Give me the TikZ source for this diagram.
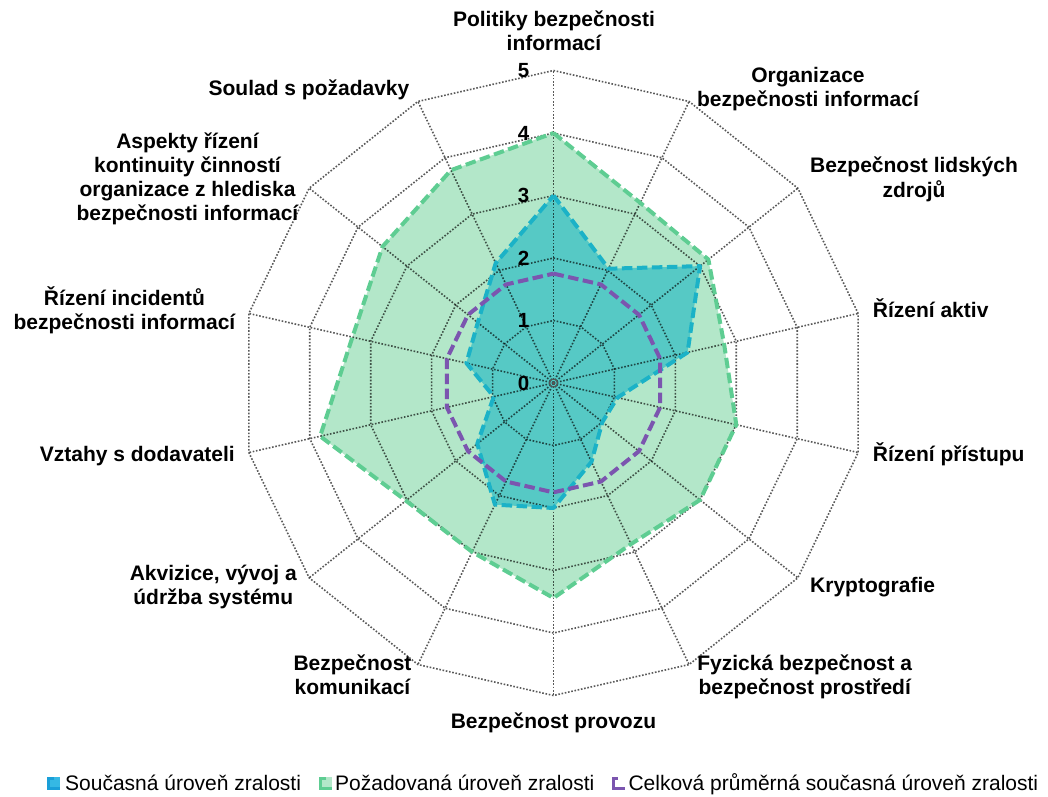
\documentclass[tikz,border=0pt]{standalone}
\usepackage{fontspec}
\setmainfont{Liberation Sans}
\definecolor{greenfill}{HTML}{B3E7C9}
\definecolor{greenline}{HTML}{5ECD92}
\definecolor{tealfill}{HTML}{56C9C5}
\definecolor{tealline}{HTML}{1BB2C7}
\definecolor{purpleline}{HTML}{7B55AF}
\definecolor{legblue}{HTML}{35B8E4}
\definecolor{legblueline}{HTML}{1A9FD8}
\begin{document}
\begin{tikzpicture}[x=1pt,y=1pt,
  gridline/.style={black,opacity=0.65,line width=1.6pt,dash pattern=on 1.6pt off 1.7pt},
  series/.style={line width=4pt,dash pattern=on 10.5pt off 4.5pt,line join=round},
  catlab/.style={font=\bfseries\fontsize{21}{24}\selectfont,align=center,inner sep=0pt},
  numlab/.style={font=\bfseries\fontsize{20.5}{24}\selectfont,inner sep=0pt},
  leglab/.style={font=\fontsize{21}{24}\selectfont,inner sep=0pt,anchor=base west},
  legmark/.style={line width=3pt}]
\useasboundingbox (-553.5,-413) rectangle (494.5,383);
% data points
\foreach \v [count=\i from 0] in {4,3.2,3.17,2.8,3,3,2.86,3.44,3,3.02,3.83,3.3,3.5,3.78}
  \coordinate (g\i) at ({90-\i*360/14}:{\v*62.5});
\foreach \v [count=\i from 0] in {3,2.03,3,2.2,1.05,1,1.4,2,2.16,1.56,0.98,1.43,1.55,2.13}
  \coordinate (t\i) at ({90-\i*360/14}:{\v*62.5});
\foreach \i in {0,...,13}
  \coordinate (p\i) at ({90-\i*360/14}:{1.75*62.5});
% fills
\fill[greenfill] (g0)--(g1)--(g2)--(g3)--(g4)--(g5)--(g6)--(g7)--(g8)--(g9)--(g10)--(g11)--(g12)--(g13)--cycle;
\fill[tealfill] (t0)--(t1)--(t2)--(t3)--(t4)--(t5)--(t6)--(t7)--(t8)--(t9)--(t10)--(t11)--(t12)--(t13)--cycle;
% grid
\foreach \r in {1,...,5}
  \draw[gridline] (90:\r*62.5) \foreach \i in {1,...,13} { -- ({90-\i*360/14}:\r*62.5) } -- cycle;
\foreach \i in {0,...,13}
  \draw[gridline] (0,0) -- ({90-\i*360/14}:312.5);
\node[draw=black!65,line width=1pt,circle,minimum size=8pt,inner sep=0pt] (ctr) at (0,0) {};
\fill[black!65] (ctr.center) circle (1.8pt);
% outlines
\draw[series,greenline] (g0)--(g1)--(g2)--(g3)--(g4)--(g5)--(g6)--(g7)--(g8)--(g9)--(g10)--(g11)--(g12)--(g13)--cycle;
\draw[series,tealline] (t0)--(t1)--(t2)--(t3)--(t4)--(t5)--(t6)--(t7)--(t8)--(t9)--(t10)--(t11)--(t12)--(t13)--cycle;
\draw[series,purpleline] (p0)--(p1)--(p2)--(p3)--(p4)--(p5)--(p6)--(p7)--(p8)--(p9)--(p10)--(p11)--(p12)--(p13)--cycle;
% ring numbers
\foreach \r in {0,...,5}
  \node[numlab] (n\r) at (-30,\r*62.5) {\r};
% category labels
\node[catlab] (c0) at (0.5,349.1) {\strut Politiky bezpečnosti\\informací\strut};
\node[catlab] (c1) at (254.5,293.3) {\strut Organizace\\bezpečnosti informací\strut};
\node[catlab] (c2) at (360.5,202.8) {\strut Bezpečnost lidských\\zdrojů\strut};
\node[catlab,anchor=west] (c3) at (319.2,71.1) {\strut Řízení aktiv};
\node[catlab,anchor=west] (c4) at (319.2,-72.9) {\strut Řízení přístupu};
\node[catlab,anchor=west] (c5) at (256.5,-204.9) {\strut Kryptografie};
\node[catlab] (c6) at (251.2,-295) {\strut Fyzická bezpečnost a\\bezpečnost prostředí\strut};
\node[catlab] (c7) at (0,-340.2) {\strut Bezpečnost provozu};
\node[catlab] (c8) at (-201,-295) {\strut Bezpečnost\\komunikací\strut};
\node[catlab] (c9) at (-340.2,-205) {\strut Akvizice, vývoj a\\údržba systému\strut};
\node[catlab,anchor=east] (c10) at (-318.5,-73.9) {\strut Vztahy s dodavateli};
\node[catlab] (c11) at (-429,71.1) {\strut Řízení incidentů\\bezpečnosti informací\strut};
\node[catlab] (c12) at (-366,203) {\strut Aspekty řízení\\kontinuity činností\\organizace z hlediska\\bezpečnosti informací\strut};
\node[catlab] (c13) at (-244.5,292.8) {\strut Soulad s požadavky};
% legend
\fill[legblue] (-506.5,-407) rectangle (-493.5,-394);
\draw[legmark,legblueline] (-499,-395.5) -- (-505,-395.5) -- (-505,-405.5) -- (-493.5,-405.5);
\node[leglab] (l1) at (-488.5,-407) {Současná úroveň zralosti};
\fill[greenfill] (-234.5,-407) rectangle (-221.5,-394);
\draw[legmark,greenline] (-227,-395.5) -- (-233,-395.5) -- (-233,-405.5) -- (-221.5,-405.5);
\node[leglab] (l2) at (-218.5,-407) {Požadovaná úroveň zralosti};
\draw[legmark,purpleline] (64.5,-395.5) -- (59.5,-395.5) -- (59.5,-405.5) -- (71,-405.5);
\node[leglab] (l3) at (74.8,-407) {Celková průměrná současná úroveň zralosti};
\end{tikzpicture}
\end{document}
